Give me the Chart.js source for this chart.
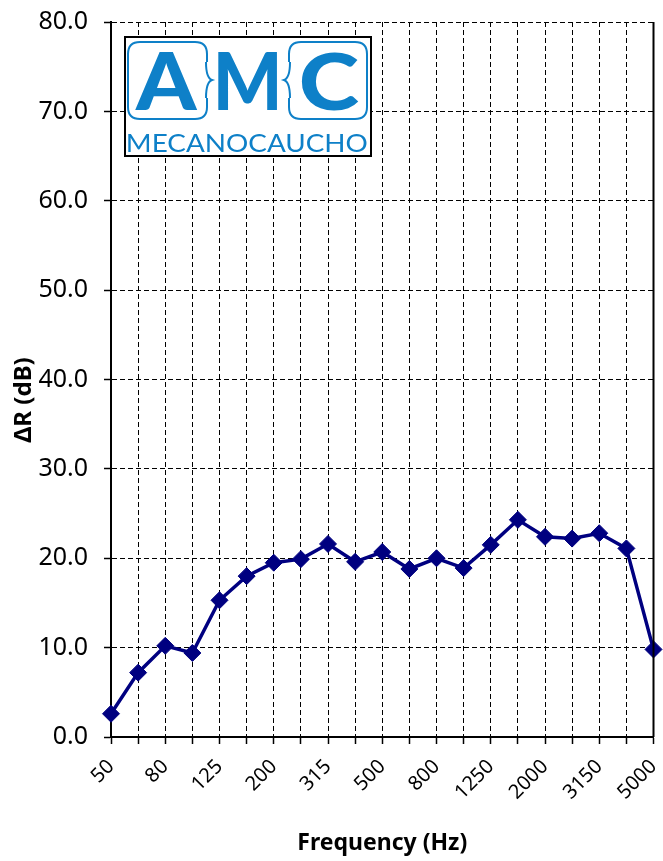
<!DOCTYPE html>
<html><head><meta charset="utf-8">
<script src="https://cdn.jsdelivr.net/npm/chart.js@4.4.1/dist/chart.umd.min.js"></script>
<style>html,body{margin:0;padding:0;background:#fff}#wrap{width:663px;height:861px;position:relative}canvas{display:block}</style>
</head><body><div id="wrap"><canvas id="c" width="663" height="861"></canvas></div>
<script>
const frequencies = ['50','63','80','100','125','160','200','250','315','400','500','630','800','1000','1250','1600','2000','2500','3150','4000','5000'];
const deltaR = [2.6,7.2,10.2,9.4,15.3,18.0,19.5,19.9,21.6,19.6,20.7,18.8,20.0,18.9,21.5,24.3,22.4,22.2,22.8,21.1,9.8];
const shownFreqLabels = ['50','80','125','200','315','500','800','1250','2000','3150','5000'];
const yMin = 0, yMax = 80, yStep = 10;
const xTitle = 'Frequency (Hz)';
const yTitle = 'ΔR (dB)';
const logoLetters = ['A','M','C'];
const logoName = 'MECANOCAUCHO';

const BLUE = '#0e80c8';
const FONT = '"Noto Sans", "Open Sans", sans-serif';

function rrect(ctx, x, y, w, h, r) {
  ctx.beginPath();
  ctx.moveTo(x + r, y);
  ctx.lineTo(x + w - r, y);
  ctx.quadraticCurveTo(x + w, y, x + w, y + r);
  ctx.lineTo(x + w, y + h - r);
  ctx.quadraticCurveTo(x + w, y + h, x + w - r, y + h);
  ctx.lineTo(x + r, y + h);
  ctx.quadraticCurveTo(x, y + h, x, y + h - r);
  ctx.lineTo(x, y + r);
  ctx.quadraticCurveTo(x, y, x + r, y);
  ctx.closePath();
}

function zeroPad(s) { s.paddingTop = 0; s.paddingBottom = 0; s.paddingLeft = 0; s.paddingRight = 0; }

const extras = {
  id: 'extras',
  afterDraw(chart) {
    const ctx = chart.ctx, a = chart.chartArea;
    ctx.save();
    ctx.strokeStyle = '#000'; ctx.lineWidth = 2;
    ctx.beginPath(); ctx.moveTo(a.right, a.top); ctx.lineTo(a.right, a.bottom); ctx.stroke();
    ctx.restore();
    ctx.save();
    ctx.translate(24, 400);
    ctx.rotate(-Math.PI / 2);
    ctx.font = 'bold 24px ' + FONT;
    ctx.fillStyle = '#000'; ctx.textAlign = 'center'; ctx.textBaseline = 'middle';
    ctx.fillText(yTitle, 0, 0);
    ctx.restore();
    // logo
    ctx.save();
    const bx = 125, by = 37, bw = 246, bh = 119;
    ctx.fillStyle = '#fff'; ctx.fillRect(bx, by, bw, bh);
    ctx.strokeStyle = '#000'; ctx.lineWidth = 2; ctx.strokeRect(bx, by, bw, bh);
    ctx.strokeStyle = BLUE; ctx.lineWidth = 2;
    rrect(ctx, 128, 42, 79, 77, 12); ctx.stroke();
    rrect(ctx, 289, 42, 78, 77, 12); ctx.stroke();
    ctx.fillStyle = '#fff';
    ctx.fillRect(204, 62, 6, 36);
    ctx.fillRect(286, 62, 6, 36);
    ctx.strokeStyle = BLUE;
    ctx.beginPath(); ctx.moveTo(206, 62); ctx.quadraticCurveTo(206, 78, 212, 80); ctx.quadraticCurveTo(206, 82, 206, 98); ctx.stroke();
    ctx.beginPath(); ctx.moveTo(290, 62); ctx.quadraticCurveTo(290, 78, 284, 80); ctx.quadraticCurveTo(290, 82, 290, 98); ctx.stroke();
    ctx.fillStyle = BLUE;
    ctx.textBaseline = 'alphabetic'; ctx.textAlign = 'left';
    const boxes = [[135, 63], [218, 59], [301, 58]];
    ctx.font = '900 82px Lato, "DejaVu Sans", sans-serif';
    logoLetters.forEach((L, i) => {
      const m = ctx.measureText(L);
      const w = m.actualBoundingBoxRight + m.actualBoundingBoxLeft;
      const h = m.actualBoundingBoxAscent;
      ctx.save();
      ctx.translate(boxes[i][0], 110);
      ctx.scale(boxes[i][1] / w, 58 / h);
      ctx.fillText(L, m.actualBoundingBoxLeft, 0);
      ctx.restore();
    });
    ctx.font = '400 26px Lato, "Noto Sans", sans-serif';
    const m2 = ctx.measureText(logoName);
    const w2 = m2.actualBoundingBoxRight + m2.actualBoundingBoxLeft;
    const h2 = m2.actualBoundingBoxAscent;
    ctx.save();
    ctx.translate(128, 152);
    ctx.scale(239 / w2, 19 / h2);
    ctx.fillText(logoName, m2.actualBoundingBoxLeft, 0);
    ctx.restore();
    ctx.restore();
  }
};

new Chart(document.getElementById('c'), {
  type: 'line',
  data: {
    labels: frequencies,
    datasets: [{
      data: deltaR,
      borderColor: '#000080',
      backgroundColor: '#000080',
      borderWidth: 3.5,
      pointStyle: 'rectRot',
      pointRadius: 8.5,
      pointBorderWidth: 1,
      pointBackgroundColor: '#000080',
      pointBorderColor: '#000080',
      tension: 0,
      clip: false
    }]
  },
  options: {
    responsive: false,
    animation: false,
    devicePixelRatio: 1,
    layout: { padding: { top: 22, right: 8, bottom: 4, left: 0 } },
    plugins: { legend: { display: false }, tooltip: { enabled: false } },
    scales: {
      x: {
        type: 'category',
        afterFit(s) { s.height = 120; zeroPad(s); },
        ticks: {
          autoSkip: false, maxRotation: 45, minRotation: 45, padding: 11,
          color: '#000', font: { family: FONT, size: 20 },
          callback(v, i) { const f = frequencies[i]; return shownFreqLabels.includes(f) ? f : ''; }
        },
        grid: { color: '#000', lineWidth: 1, tickLength: 7, tickWidth: 1.5 },
        border: { display: true, color: '#000', width: 2, dash: [5, 3] },
        title: { display: true, text: xTitle, color: '#000', font: { family: FONT, size: 23, weight: 'bold' }, padding: { top: 0, bottom: 0 } }
      },
      y: {
        min: yMin, max: yMax,
        afterFit(s) { s.width = 111; zeroPad(s); },
        ticks: {
          stepSize: yStep, padding: 16, color: '#000',
          font: { family: FONT, size: 25 },
          callback(v) { return Number(v).toFixed(1); }
        },
        grid: { color: '#000', lineWidth: 1, tickLength: 7, tickWidth: 1.5 },
        border: { display: true, color: '#000', width: 2, dash: [5, 3] }
      }
    }
  },
  plugins: [extras]
});
</script>
</body></html>
